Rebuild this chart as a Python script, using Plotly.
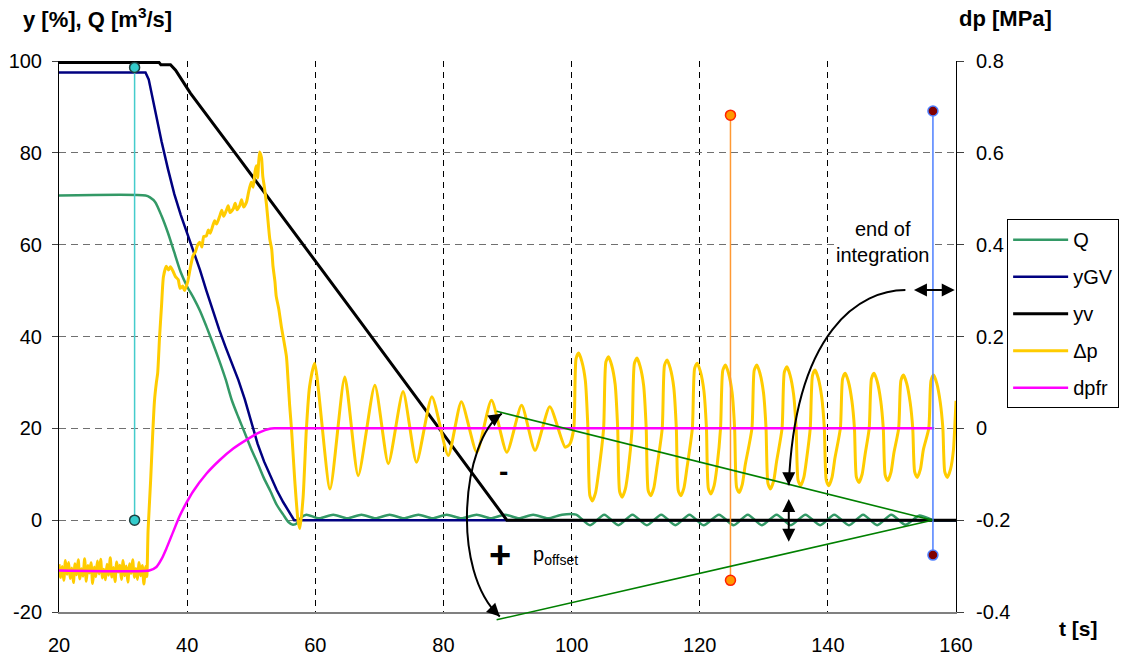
import plotly.graph_objects as go

FONT = "Liberation Sans, Arial, sans-serif"

# ---------------- axes / ticks ----------------
X_RANGE = [20, 160]
Y_RANGE = [-20, 100]
DP_RANGE = [-0.4, 0.8]
x_ticks = [20, 40, 60, 80, 100, 120, 140, 160]
x_tick_text = ["20", "40", "60", "80", "100", "120", "140", "160"]
y_ticks = [-20, 0, 20, 40, 60, 80, 100]
y_tick_text = ["-20", "0", "20", "40", "60", "80", "100"]
dp_ticks = [-0.4, -0.2, 0, 0.2, 0.4, 0.6, 0.8]
dp_tick_text = ["-0.4", "-0.2", "0", "0.2", "0.4", "0.6", "0.8"]

# ---------------- series (left axis, %) ----------------
q_t = [20, 33.5, 34.2, 35, 36, 37, 38, 39, 40, 41, 42, 43, 44, 45, 46, 47, 48, 49, 50, 51, 52, 53, 54, 55,
       55.8, 56.5, 57.2, 57.8, 58.6, 60.6, 62.8, 65.0, 67.2, 69.4, 71.6, 73.8, 76.1, 78.3, 80.5, 82.8, 85.2, 87.4,
       89.6, 91.8, 94.0, 96.3, 98.5, 100.7, 102.9, 105.1, 107.3, 109.5, 111.75, 114.0, 116.2, 118.4, 120.6, 123.0,
       125.3, 127.5, 129.7, 132.0, 134.2, 136.5, 138.8, 141.0, 143.3, 145.5, 147.7, 149.9, 152.1, 154.3, 156.5,
       160]
q_v = [70.7, 70.7, 70.3, 69.3, 66.3, 62.6, 58.3, 54.0, 50.9, 48.4, 45.6, 42.2, 38.6, 34.8, 30.7, 26.0, 22.4, 19.0,
       15.5, 12.4, 9.1, 6.3, 3.3, 1.2, -0.4, -1.0, -0.6, 0.6, 1.2, 0.4, 1.2, 0.4, 1.2, 0.4, 1.2, 0.4, 1.2, 0.4,
       1.2, 0.4, 1.2, 0.4, 1.2, 0.4, 1.2, 0.4, 1.2, 1.2, -1.1, 1.2, -1.1, 1.2, -1.1, 1.2, -1.1, 1.2, -1.1, 1.2,
       -1.1, 1.2, -1.1, 1.2, -1.1, 1.2, -1.1, 1.2, -1.1, 1.2, -1.1, 1.2, -1.0, 1.0, 0.0, 0.0]

ygv_t = [20, 33.5, 34, 35, 36, 37, 38, 39, 40, 41, 42, 43, 44, 45, 46, 47, 48, 49, 50, 51, 52, 53, 54, 55, 56,
         56.7, 160]
ygv_v = [97.5, 97.5, 96.0, 89.0, 82.5, 76.5, 71.0, 66.5, 62.5, 58.5, 54.5, 50.0, 45.7, 41.5, 37.7, 34.0, 30.5,
         26.3, 21.3, 16.6, 12.8, 9.8, 6.5, 3.9, 1.5, 0.0, 0.0]

yv_t = [20, 35.6, 35.9, 37.4, 38.2, 39.5, 40.5, 48.0, 60.2, 67.0, 89.9, 160]
yv_v = [99.7, 99.7, 99.2, 99.2, 98.0, 95.0, 93.0, 79.0, 55.9, 43.3, 0.0, 0.0]

# ---------------- series (right axis, MPa) ----------------
dp_t = [20.0, 20.25, 20.5, 20.75, 21.0, 21.25, 21.5, 21.75, 22.0, 22.25, 22.5, 22.75, 23.0, 23.25, 23.5, 23.75,
        24.0, 24.25, 24.5, 24.75, 25.0, 25.25, 25.5, 25.75, 26.0, 26.25, 26.5, 26.75, 27.0, 27.25, 27.5, 27.75,
        28.0, 28.25, 28.5, 28.75, 29.0, 29.25, 29.5, 29.75, 30.0, 30.25, 30.5, 30.75, 31.0, 31.25, 31.5, 31.75,
        32.0, 32.25, 32.5, 32.75, 33.0, 33.25, 33.5, 33.7,
        33.9, 34.3, 34.6, 34.9, 35.2, 35.4, 35.7, 36.0, 36.3, 36.75, 37.1, 37.4, 37.8, 38.2, 38.6, 38.9, 39.3, 39.6,
        40.1, 40.5, 40.9, 41.3, 41.6, 42.0, 42.3, 42.6, 43.0, 43.3, 43.6, 44.0, 44.3, 44.6, 45.1, 45.4, 45.7, 46.1,
        46.4, 46.7, 47.2, 47.5, 47.8, 48.2, 48.5, 48.8, 49.25, 49.6, 50.0, 50.3, 50.6, 50.8, 51.0, 51.3, 51.6, 51.8,
        52.1, 52.4, 52.7, 52.9, 53.2, 53.4, 53.7, 53.9, 54.3, 54.7, 55.1, 55.5, 55.75, 56.0, 56.3, 56.8, 57.3, 57.6,
        58.1, 58.6, 59.1, 59.9,
        62.3, 64.6, 66.7, 69.3, 71.4, 73.7, 75.8, 78.2, 80.75, 82.8, 85.2, 87.5, 89.9, 92.2, 94.3, 96.6, 99.0,
        99.7,
        100.35, 100.7, 101.1, 101.6, 102.15, 102.55, 102.85, 103.25, 103.75, 104.2,
        105.0, 105.35, 105.75, 106.25, 106.8, 107.2, 107.5, 107.9, 108.4, 108.85,
        109.45, 109.8, 110.2, 110.7, 111.25, 111.65, 111.95, 112.35, 112.85, 113.3,
        114.15, 114.5, 114.9, 115.4, 115.95, 116.35, 116.65, 117.05, 117.55, 118.0,
        118.85, 119.2, 119.6, 120.1, 120.65, 121.05, 121.35, 121.75, 122.25, 122.7,
        123.25, 123.6, 124.0, 124.5, 125.05, 125.45, 125.75, 126.15, 126.65, 127.1,
        128.15, 128.5, 128.9, 129.4, 129.95, 130.35, 130.65, 131.05, 131.55, 132.0,
        132.85, 133.2, 133.6, 134.1, 134.65, 135.05, 135.35, 135.75, 136.25, 136.7,
        137.25, 137.6, 138.0, 138.5, 139.05, 139.45, 139.75, 140.15, 140.65, 141.1,
        141.95, 142.3, 142.7, 143.2, 143.75, 144.15, 144.45, 144.85, 145.35, 145.8,
        146.45, 146.8, 147.2, 147.7, 148.25, 148.65, 148.95, 149.35, 149.85, 150.3,
        151.05, 151.4, 151.8, 152.3, 152.85, 153.25, 153.55, 153.95, 154.45, 154.9,
        155.75, 156.1, 156.5, 157.0, 157.55, 157.95, 158.25, 158.65, 159.15, 159.6,
        159.9, 160.0]
dp_v = [-0.296, -0.325, -0.301, -0.331, -0.288, -0.318, -0.292, -0.327, -0.304, -0.336, -0.295, -0.319, -0.286,
        -0.328, -0.306, -0.322, -0.284, -0.333, -0.299, -0.315, -0.293, -0.338, -0.302, -0.323, -0.289, -0.317,
        -0.285, -0.326, -0.307, -0.330, -0.296, -0.320, -0.282, -0.324, -0.303, -0.334, -0.291, -0.313, -0.298,
        -0.329, -0.288, -0.321, -0.300, -0.335, -0.295, -0.316, -0.286, -0.325, -0.305, -0.329, -0.292, -0.321,
        -0.299, -0.339, -0.301, -0.323,
        -0.223, -0.114, -0.020, 0.060, 0.100, 0.120, 0.200, 0.266, 0.330, 0.353, 0.345, 0.352, 0.342, 0.330, 0.324,
        0.305, 0.310, 0.300, 0.320, 0.350, 0.375, 0.385, 0.398, 0.405, 0.395, 0.418, 0.419, 0.432, 0.425, 0.441,
        0.452, 0.445, 0.463, 0.475, 0.462, 0.474, 0.485, 0.470, 0.478, 0.490, 0.476, 0.485, 0.498, 0.482, 0.492,
        0.515, 0.536, 0.525, 0.560, 0.572, 0.545, 0.602, 0.590, 0.550, 0.521, 0.485, 0.440, 0.412, 0.390, 0.353,
        0.320, 0.288, 0.260, 0.222, 0.190, 0.156, 0.105, 0.050, -0.004, -0.114, -0.200, -0.218, -0.150, -0.004,
        0.090, 0.142,
        -0.132, 0.112, -0.103, 0.094, -0.077, 0.080, -0.074, 0.069, -0.059, 0.058, -0.052, 0.061, -0.052, 0.050,
        -0.048, 0.047, -0.041,
        -0.035,
        0.0, 0.152, 0.164, 0.146, 0.104, 0.0, -0.146, -0.158, -0.140, -0.098,
        0.0, 0.144, 0.156, 0.138, 0.096, 0.0, -0.138, -0.150, -0.132, -0.090,
        0.0, 0.141, 0.153, 0.135, 0.093, 0.0, -0.135, -0.147, -0.129, -0.087,
        0.0, 0.137, 0.149, 0.131, 0.089, 0.0, -0.135, -0.147, -0.129, -0.087,
        0.0, 0.130, 0.142, 0.124, 0.082, 0.0, -0.131, -0.143, -0.125, -0.083,
        0.0, 0.126, 0.138, 0.120, 0.078, 0.0, -0.128, -0.140, -0.122, -0.080,
        0.0, 0.126, 0.138, 0.120, 0.078, 0.0, -0.120, -0.132, -0.114, -0.072,
        0.0, 0.122, 0.134, 0.116, 0.074, 0.0, -0.113, -0.125, -0.107, -0.065,
        0.0, 0.115, 0.127, 0.109, 0.067, 0.0, -0.113, -0.125, -0.107, -0.065,
        0.0, 0.108, 0.120, 0.102, 0.060, 0.0, -0.106, -0.118, -0.100, -0.058,
        0.0, 0.108, 0.120, 0.102, 0.060, 0.0, -0.102, -0.114, -0.096, -0.054,
        0.0, 0.104, 0.116, 0.098, 0.056, 0.0, -0.095, -0.107, -0.089, -0.047,
        0.0, 0.104, 0.116, 0.098, 0.056, 0.0, -0.095, -0.107, -0.089, -0.047,
        0.03, 0.06]

dpfr_t = [20, 34.1, 35.2, 36.0, 36.75, 37.8, 38.8, 39.9, 40.9, 43.0, 45.1, 47.2, 49.25, 51.3, 52.9, 53.6, 156.6]
dpfr_v = [-0.3095, -0.3095, -0.302, -0.285, -0.262, -0.226, -0.192, -0.162, -0.138, -0.099, -0.069, -0.044,
          -0.025, -0.009, -0.001, 0.0, 0.0]

# markers / vertical lines (right axis, MPa)
cyan_t = [31.8, 31.8]
cyan_v = [-0.2, 0.786]
orange_t = [124.8, 124.8]
orange_v = [-0.331, 0.682]
blue_t = [156.4, 156.4]
blue_v = [-0.276, 0.691]

# annotation geometry (left axis units)
tri_apex = (156.3, 0.0)
tri_top = (88.3, 23.7)
tri_bot = (88.3, -21.7)
arc_pts = [(89.1, 23.2), (82.9, 17.4), (81.0, -11.1), (88.8, -21.0)]
end_curve_pts = [(152.1, 50.1), (145.1, 50.1), (134.9, 41.5), (133.9, 7.6)]
h_arrow = (153.2, 159.8, 50.1)
v_arrow = (133.9, -5.0, 4.6)


def yp(v):
    return (v - Y_RANGE[0]) / (Y_RANGE[1] - Y_RANGE[0])


fig = go.Figure()

fig.add_trace(go.Scatter(x=q_t, y=q_v, name="Q", mode="lines", legendgroup="g1",
                         line=dict(color="#339966", width=2.5, shape="spline", smoothing=0.7)))
fig.add_trace(go.Scatter(x=ygv_t, y=ygv_v, name="yGV", mode="lines", legendgroup="g2",
                         line=dict(color="#000080", width=2.5)))
fig.add_trace(go.Scatter(x=yv_t, y=yv_v, name="yv", mode="lines", legendgroup="g3",
                         line=dict(color="#000000", width=3)))
fig.add_trace(go.Scatter(x=dp_t, y=dp_v, name="\u0394p", mode="lines", yaxis="y2", legendgroup="g4",
                         line=dict(color="#FFCC00", width=3, shape="spline", smoothing=0.6)))
fig.add_trace(go.Scatter(x=dpfr_t, y=dpfr_v, name="dpfr", mode="lines", yaxis="y2", legendgroup="g5",
                         line=dict(color="#FF00FF", width=2.5, shape="spline", smoothing=0.5)))

fig.add_trace(go.Scatter(x=cyan_t, y=cyan_v, mode="lines+markers", yaxis="y2", showlegend=False,
                         line=dict(color="#44CCCC", width=1.5),
                         marker=dict(size=10, color="#33CCCC", line=dict(color="#1F3F3F", width=1.5))))
fig.add_trace(go.Scatter(x=orange_t, y=orange_v, mode="lines+markers", yaxis="y2", showlegend=False,
                         line=dict(color="#FF9933", width=1.5),
                         marker=dict(size=10, color="#FF9900", line=dict(color="#FF2200", width=1.5))))
fig.add_trace(go.Scatter(x=blue_t, y=blue_v, mode="lines+markers", yaxis="y2", showlegend=False,
                         line=dict(color="#4D7FFF", width=1.5),
                         marker=dict(size=10, color="#800000", line=dict(color="#4D7FFF", width=1.5))))

shapes = [
    dict(type="line", xref="x", yref="paper", x0=tri_top[0], y0=yp(tri_top[1]), x1=tri_apex[0],
         y1=yp(tri_apex[1]), line=dict(color="#008000", width=1.6), layer="above"),
    dict(type="line", xref="x", yref="paper", x0=tri_bot[0], y0=yp(tri_bot[1]), x1=tri_apex[0],
         y1=yp(tri_apex[1]), line=dict(color="#008000", width=1.6), layer="above"),
    dict(type="path", xref="x", yref="paper",
         path="M {},{} C {},{} {},{} {},{}".format(arc_pts[0][0], yp(arc_pts[0][1]), arc_pts[1][0],
                                                   yp(arc_pts[1][1]), arc_pts[2][0], yp(arc_pts[2][1]),
                                                   arc_pts[3][0], yp(arc_pts[3][1])),
         line=dict(color="black", width=2), layer="above"),
    dict(type="path", xref="x", yref="y",
         path="M {},{} C {},{} {},{} {},{}".format(*[c for p in end_curve_pts for c in p]),
         line=dict(color="black", width=2), layer="above"),
]

arrow_style = dict(showarrow=True, arrowhead=2, arrowsize=1.3, arrowwidth=2, arrowcolor="black",
                   standoff=0, text="")
annotations = [
    dict(x=h_arrow[1], y=h_arrow[2], ax=h_arrow[0], ay=h_arrow[2], xref="x", yref="y", axref="x", ayref="y",
         arrowside="end+start", startarrowhead=2, startarrowsize=1.3, startstandoff=0, **arrow_style),
    dict(x=v_arrow[0], y=v_arrow[2], ax=v_arrow[0], ay=v_arrow[1], xref="x", yref="y", axref="x", ayref="y",
         arrowside="end+start", startarrowhead=2, startarrowsize=1.3, startstandoff=0, **arrow_style),
    dict(x=end_curve_pts[3][0], y=end_curve_pts[3][1], ax=0, ay=-12, xref="x", yref="y", **arrow_style),
    dict(x=arc_pts[0][0], y=yp(arc_pts[0][1]), ax=-9, ay=6, xref="x", yref="paper", **arrow_style),
    dict(x=arc_pts[3][0], y=yp(arc_pts[3][1]), ax=-7, ay=-7, xref="x", yref="paper", **arrow_style),
    dict(x=148.6, y=60.5, xref="x", yref="y", text="end of<br>integration", showarrow=False,
         bgcolor="white", font=dict(size=20, family=FONT, color="black")),
    dict(x=89.3, y=10.6, xref="x", yref="y", text="<b>-</b>", showarrow=False,
         font=dict(size=28, family=FONT, color="black")),
    dict(x=88.8, y=-7.6, xref="x", yref="y", text="<b>+</b>", showarrow=False,
         font=dict(size=38, family=FONT, color="black")),
    dict(x=93.7, y=-7.6, xref="x", yref="y", xanchor="left", text="p<sub>offset</sub>", showarrow=False,
         font=dict(size=20, family=FONT, color="black")),
    dict(x=0, y=1, xref="paper", yref="paper", xanchor="left", yanchor="middle", xshift=-38, yshift=43,
         text="<b>y [%], Q [m<sup>3</sup>/s]</b>", showarrow=False, font=dict(size=22, family=FONT, color="black")),
    dict(x=1, y=1, xref="paper", yref="paper", xanchor="left", yanchor="middle", xshift=1, yshift=43,
         text="<b>dp [MPa]</b>", showarrow=False, font=dict(size=22, family=FONT, color="black")),
    dict(x=1, y=0, xref="paper", yref="paper", xanchor="left", yanchor="middle", xshift=101, yshift=-16,
         text="<b>t [s]</b>", showarrow=False, font=dict(size=21, family=FONT, color="black")),
]

fig.update_layout(
    width=1125, height=657,
    margin=dict(l=59, r=169, t=61, b=45, autoexpand=False),
    paper_bgcolor="white", plot_bgcolor="white",
    font=dict(family=FONT, size=20, color="black"),
    shapes=shapes,
    annotations=annotations,
    showlegend=True,
    legend=dict(x=1.057, y=0.713, xanchor="left", yanchor="top", bordercolor="black", borderwidth=1,
                bgcolor="white", font=dict(size=20, family=FONT, color="black"), tracegroupgap=8,
                itemwidth=55),
    xaxis=dict(range=X_RANGE, tickvals=x_ticks, ticktext=x_tick_text, showgrid=True, gridcolor="black",
               griddash="6px,5px", gridwidth=1, zeroline=False, showline=True, linecolor="#808080", linewidth=2,
               ticks="", ticklabelstandoff=14, tickfont=dict(size=20), automargin=False),
    yaxis=dict(range=Y_RANGE, tickvals=y_ticks, ticktext=y_tick_text, showgrid=True, gridcolor="#707070",
               griddash="7px,5px", gridwidth=1, zeroline=False, showline=True, linecolor="black", linewidth=1,
               ticks="outside", ticklen=6, tickcolor="#404040", ticklabelstandoff=6, tickfont=dict(size=20),
               automargin=False),
    yaxis2=dict(range=DP_RANGE, tickvals=dp_ticks, ticktext=dp_tick_text, overlaying="y", side="right",
                anchor="x", showgrid=False, zeroline=False, showline=True, linecolor="black", linewidth=1,
                ticks="outside", ticklen=7, tickcolor="#404040", ticklabelstandoff=8, tickfont=dict(size=20),
                automargin=False),
)

fig.write_html("out.html")
